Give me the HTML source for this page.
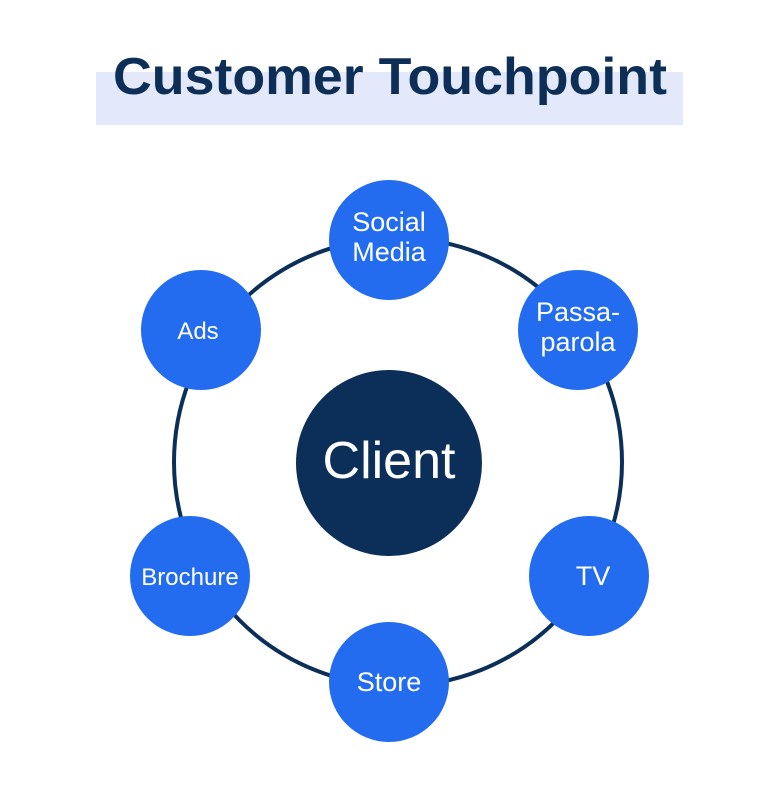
<!DOCTYPE html>
<html><head><style>
html,body{margin:0;padding:0;background:#fff;}
body{width:780px;height:780px;position:relative;overflow:hidden;font-family:"Liberation Sans",sans-serif;}
</style></head><body>
<svg width="780" height="780" viewBox="0 0 780 780" xmlns="http://www.w3.org/2000/svg">
<rect x="96" y="72" width="587" height="53" fill="#e3e9fb"/>
<text x="113" y="94" textLength="554" lengthAdjust="spacingAndGlyphs" font-family="Liberation Sans, sans-serif" font-weight="bold" font-size="52" fill="#0d2e57">Customer Touchpoint</text>
<circle cx="398" cy="462" r="224" fill="none" stroke="#0c2f59" stroke-width="4"/>
<circle cx="389" cy="463" r="93" fill="#0c2f59"/>
<text x="389" y="478" text-anchor="middle" font-size="52" fill="#fff" font-family="Liberation Sans, sans-serif">Client</text>
<g fill="#236cf0">
<circle cx="389" cy="240" r="60"/>
<circle cx="578" cy="330" r="60"/>
<circle cx="589" cy="576" r="60"/>
<circle cx="389" cy="682" r="60"/>
<circle cx="190" cy="576" r="60"/>
<circle cx="201" cy="330" r="60"/>
</g>
<g fill="#fff" font-size="27" text-anchor="middle" font-family="Liberation Sans, sans-serif">
<text x="389" y="231">Social</text>
<text x="389" y="261">Media</text>
<text x="578" y="321">Passa-</text>
<text x="578" y="351">parola</text>
<text x="593" y="585">TV</text>
<text x="389" y="691">Store</text>
<text x="190" y="585" font-size="24">Brochure</text>
<text x="198" y="339" font-size="24">Ads</text>
</g>
</svg>
</body></html>
